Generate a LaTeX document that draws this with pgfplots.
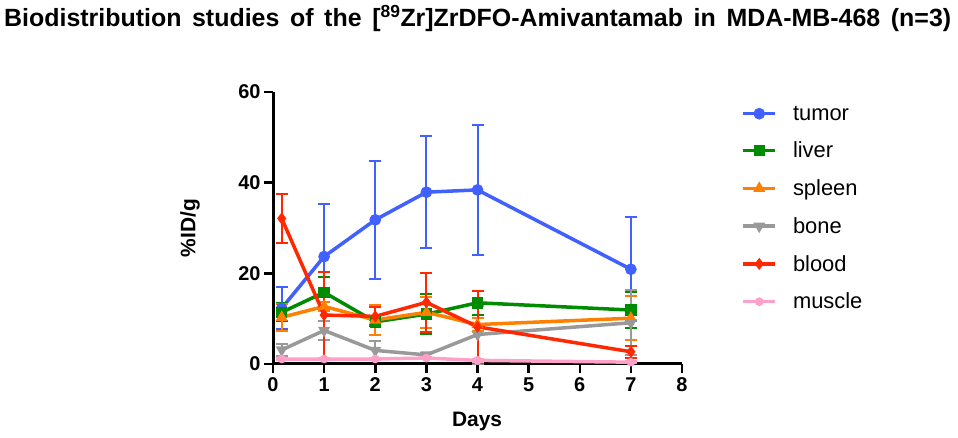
\documentclass[border=0pt]{standalone}
\usepackage{fontspec}
\setmainfont{Liberation Sans}
\usepackage{pgfplots}
\pgfplotsset{compat=1.18}
\definecolor{ctumor}{RGB}{64,96,255}
\definecolor{cliver}{RGB}{0,140,0}
\definecolor{cspleen}{RGB}{255,128,0}
\definecolor{cbone}{RGB}{153,153,153}
\definecolor{cblood}{RGB}{255,40,0}
\definecolor{cmuscle}{RGB}{255,160,200}
\begin{document}
\begin{tikzpicture}[x=1bp,y=1bp]
\path[use as bounding box] (0,0) rectangle (958,438);
\node[anchor=base west, inner sep=0pt] at (4,411.3) {\resizebox{947bp}{!}{\fontsize{23.5}{24}\selectfont\bfseries\spaceskip=10bp plus 1bp Biodistribution studies of the [\textsuperscript{89}Zr]ZrDFO-Amivantamab in MDA-MB-468 (n=3)}};
\begin{axis}[
  at={(273bp,74bp)}, anchor=south west,
  scale only axis, width=409bp, height=272bp,
  xmin=0, xmax=8, ymin=0, ymax=60,
  axis x line*=bottom, axis y line*=left,
  axis line style={line width=3bp, black},
  every tick/.style={line width=2.5bp, black},
  major tick length=9bp, tick align=outside,
  xtick={0,1,...,8}, ytick={0,20,40,60},
  minor tick num=0,
  /pgf/number format/assume math mode=true,
  xticklabel={\pgfmathprintnumber{\tick}},
  yticklabel={\pgfmathprintnumber{\tick}},
  every tick label/.style={font=\fontsize{20}{20}\selectfont\bfseries},
  xticklabel style={font=\fontsize{20}{20}\selectfont\bfseries, yshift=-1bp},
  yticklabel style={font=\fontsize{20}{20}\selectfont\bfseries, xshift=0bp},
  xlabel={Days}, ylabel={\%ID/g},
  label style={font=\fontsize{21}{21}\selectfont\bfseries},
  xlabel style={at={(axis description cs:0.499,-0.213)}, anchor=center},
  ylabel style={at={(axis description cs:-0.203,0.5)}, anchor=center},
  clip=false,
  legend image code/.code={\draw[mark repeat=2,mark phase=2,#1] plot coordinates {(0bp,0bp)(16bp,0bp)(32bp,0bp)};},
  legend style={at={(1.145,0.957)}, anchor=north west, draw=none, fill=none,
    font=\fontsize{22}{22}\selectfont, row sep=16.4bp, inner sep=0pt,
    nodes={inner xsep=8bp},
    /tikz/every odd column/.append style={column sep=8bp}},
  legend cell align=left,
  error bars/y dir=both, error bars/y explicit,
  error bars/error bar style={line width=2bp},
  error bars/error mark options={rotate=90, mark size=6bp, line width=2bp},
]
\addplot[color=ctumor, line width=3.5bp, mark=*, mark size=4bp, mark options={solid}]
 table[x=x, y=y, y error=e] {
x y e
0.17 12.3 4.6
1 23.7 11.7
2 31.8 13.0
3 37.9 12.4
4 38.4 14.3
7 20.9 11.5
};
\addlegendentry{tumor}
\addplot[color=cliver, line width=3.5bp, mark=square*, mark size=4bp, mark options={solid}]
 table[x=x, y=y, y error=e] {
x y e
0.17 11.4 2.0
1 15.8 3.3
2 9.3 1.0
3 11.0 4.4
4 13.5 2.7
7 11.9 3.9
};
\addlegendentry{liver}
\addplot[color=cspleen, line width=3.5bp, mark=triangle*, mark size=3.5bp, mark options={solid}]
 table[x=x, y=y, y error=e] {
x y e
0.17 10.3 3.0
1 12.7 1.0
2 9.7 3.4
3 11.4 3.4
4 8.7 1.5
7 10.1 4.9
};
\addlegendentry{spleen}
\addplot[color=cbone, line width=3.5bp, mark=triangle*, mark size=3.5bp, mark options={solid, rotate=180}]
 table[x=x, y=y, y error=e] {
x y e
0.17 3.1 1.3
1 7.4 2.0
2 3.0 2.0
3 2.0 0.5
4 6.5 6.4
7 9.1 7.2
};
\addlegendentry{bone}
\addplot[color=cblood, line width=3.5bp, mark=diamond*, mark size=3.2bp, mark options={solid}]
 table[x=x, y=y, y error=e] {
x y e
0.17 32.1 5.5
1 10.8 9.5
2 10.5 2.0
3 13.6 6.5
4 8.2 8.0
7 2.7 1.3
};
\addlegendentry{blood}
\addplot[color=cmuscle, line width=3.5bp, mark=*, mark size=2.5bp, mark options={solid}]
 table[x=x, y=y, y error=e] {
x y e
0.17 1.1 0.3
1 1.1 0.3
2 1.1 0.3
3 1.3 0.3
4 0.8 0.3
7 0.4 0.2
};
\addlegendentry{muscle}
\end{axis}
\end{tikzpicture}
\end{document}
